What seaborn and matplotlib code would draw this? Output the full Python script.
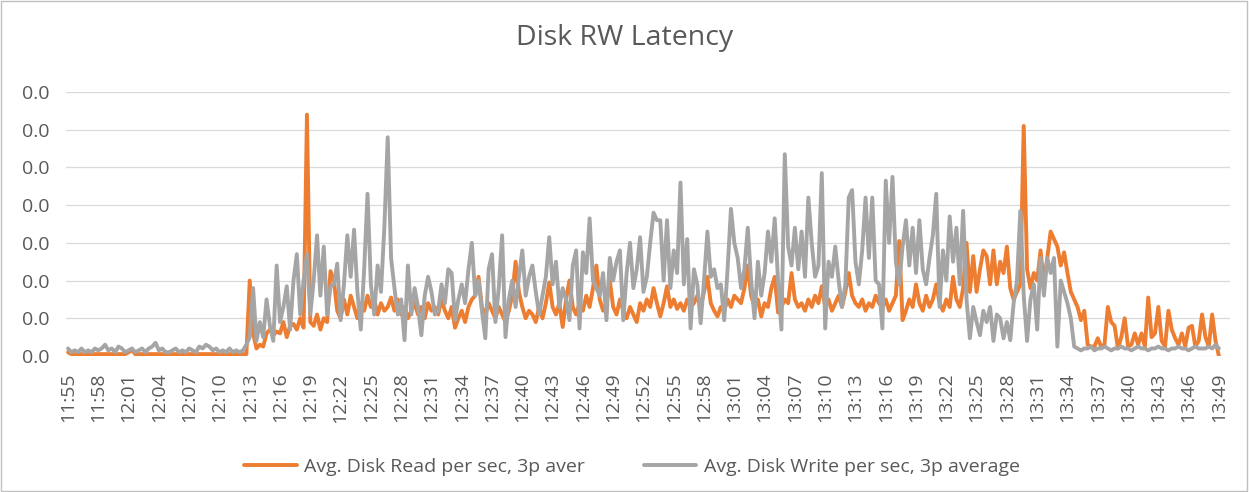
import matplotlib
matplotlib.use('Agg')
import numpy as np
import pandas as pd
import matplotlib.pyplot as plt
import matplotlib.dates as mdates
import seaborn as sns
from matplotlib.lines import Line2D
from matplotlib.patches import Rectangle

# ── data (latency in ms, one sample every 20 s from 11:55) ───────────────────
START = '2020-01-01 11:55:00'
STEP_S = 20
SERIES = ['Avg. Disk Read per sec, 3p aver', 'Avg. Disk Write per sec, 3p average']
COLORS = ['#ED7D31', '#A5A5A5']

read_ms = [
    0.1, 0.05, 0.05, 0.05, 0.05, 0.05, 0.05, 0.05, 0.05, 0.05,
    0.05, 0.05, 0.05, 0.05, 0.05, 0.05, 0.05, 0.05, 0.1, 0.15,
    0.05, 0.05, 0.05, 0.05, 0.05, 0.05, 0.05, 0.05, 0.05, 0.05,
    0.05, 0.05, 0.05, 0.05, 0.05, 0.05, 0.05, 0.05, 0.05, 0.05,
    0.05, 0.05, 0.05, 0.05, 0.05, 0.05, 0.05, 0.05, 0.05, 0.05,
    0.05, 0.05, 0.05, 0.05, 2.0, 0.6, 0.2, 0.3, 0.25, 0.6,
    0.7, 0.55, 0.65, 0.6, 0.9, 0.5, 0.8, 0.85, 0.7, 1.0,
    0.75, 6.4, 0.9, 0.8, 1.1, 0.7, 1.0, 0.9, 2.25, 2.0,
    1.2, 1.0, 1.5, 1.1, 1.6, 1.3, 1.0, 1.4, 1.2, 1.6,
    1.3, 1.5, 1.1, 1.4, 1.2, 1.3, 1.55, 1.2, 1.5, 1.1,
    1.3, 1.0, 1.2, 1.4, 1.1, 1.3, 1.0, 1.4, 1.2, 1.3,
    1.1, 1.5, 1.2, 1.0, 1.3, 0.75, 1.0, 1.2, 0.9, 1.3,
    1.5, 1.6, 2.1, 1.3, 1.1, 1.4, 1.2, 1.0, 1.3, 1.1,
    0.9, 1.2, 1.6, 2.5, 1.7, 1.3, 1.0, 1.2, 1.1, 0.9,
    1.3, 1.0, 1.4, 1.95, 1.3, 1.1, 1.4, 0.77, 1.5, 2.0,
    1.3, 1.1, 1.4, 1.2, 1.6, 1.3, 1.8, 2.4, 1.5, 1.2,
    1.4, 2.0, 1.3, 1.1, 1.5, 1.2, 1.0, 1.3, 1.1, 0.9,
    1.4, 1.2, 1.5, 1.3, 1.8, 1.4, 1.05, 1.4, 1.85, 1.3,
    1.5, 1.25, 1.4, 1.2, 1.5, 1.3, 1.4, 1.6, 1.3, 1.7,
    2.1, 1.4, 1.2, 1.05, 1.3, 1.2, 1.5, 1.3, 1.6, 1.5,
    1.4, 1.8, 2.4, 1.6, 1.3, 1.5, 1.05, 1.4, 1.3, 1.8,
    2.1, 1.15, 1.3, 1.5, 1.4, 2.2, 1.5, 1.3, 1.4, 1.2,
    1.5, 1.3, 1.6, 1.4, 1.85, 1.3, 1.5, 1.2, 1.4, 1.6,
    1.3, 1.7, 2.2, 1.6, 1.4, 1.3, 1.5, 1.2, 1.4, 1.3,
    1.6, 1.4, 1.3, 1.5, 1.2, 1.4, 1.6, 3.05, 0.95, 1.2,
    1.5, 1.3, 1.9, 1.4, 1.2, 1.6, 1.3, 1.5, 1.9, 1.4,
    1.2, 1.5, 1.3, 2.1, 1.5, 1.3, 1.8, 3.0, 1.7, 2.65,
    1.7, 2.3, 2.8, 2.65, 1.9, 2.8, 1.9, 2.5, 2.2, 2.9,
    1.8, 1.5, 1.7, 1.9, 6.1, 2.3, 1.8, 2.2, 2.0, 2.8,
    1.9, 2.6, 3.3, 3.1, 2.9, 2.4, 2.75, 2.2, 1.7, 1.5,
    1.3, 0.95, 1.2, 0.3, 0.25, 0.25, 0.47, 0.25, 0.3, 1.3,
    0.9, 0.8, 0.2, 0.5, 1.0, 0.25, 0.3, 0.6, 0.3, 0.6,
    0.25, 1.55, 0.5, 0.6, 1.3, 0.4, 0.25, 1.2, 0.7, 0.47,
    0.3, 0.6, 0.25, 0.75, 0.8, 0.25, 0.4, 1.1, 0.5, 0.25,
    1.1, 0.4, 0.0,
]

write_ms = [
    0.2, 0.1, 0.15, 0.1, 0.2, 0.1, 0.15, 0.1, 0.2, 0.15,
    0.2, 0.3, 0.15, 0.2, 0.1, 0.25, 0.2, 0.1, 0.15, 0.2,
    0.1, 0.15, 0.2, 0.1, 0.2, 0.25, 0.35, 0.15, 0.2, 0.1,
    0.1, 0.15, 0.2, 0.1, 0.15, 0.1, 0.2, 0.15, 0.1, 0.25,
    0.2, 0.3, 0.25, 0.15, 0.2, 0.1, 0.15, 0.1, 0.2, 0.1,
    0.15, 0.1, 0.15, 0.3, 0.5, 1.8, 0.4, 0.9, 0.5, 1.5,
    0.8, 0.4, 2.4, 0.9, 1.3, 1.85, 0.7, 2.0, 2.7, 1.1,
    2.0, 2.7, 1.1, 2.0, 3.2, 1.6, 2.9, 1.1, 1.85, 1.9,
    2.45, 0.95, 1.9, 3.2, 2.1, 3.35, 1.7, 0.7, 2.3, 4.3,
    1.9, 1.1, 2.4, 1.7, 3.4, 5.8, 2.6, 1.8, 1.1, 1.5,
    0.42, 2.4, 1.1, 1.8, 1.3, 0.55, 1.6, 2.1, 1.7, 1.1,
    1.2, 1.9, 1.4, 2.3, 2.2, 0.95, 1.5, 1.9, 1.4, 2.3,
    3.0, 1.6, 2.0, 1.2, 0.47, 2.3, 2.7, 0.9, 1.8, 3.2,
    0.5, 1.5, 2.0, 1.3, 2.1, 2.8, 1.6, 2.1, 2.4, 1.7,
    1.1, 1.6, 2.1, 3.15, 1.9, 2.5, 1.3, 1.8, 1.5, 0.95,
    2.4, 2.8, 0.73, 2.75, 2.2, 3.65, 2.0, 1.8, 1.6, 2.2,
    0.95, 2.6, 2.0, 2.5, 2.8, 0.95, 2.2, 3.0, 1.8, 2.3,
    3.15, 1.7, 2.1, 3.0, 3.8, 3.6, 3.6, 2.0, 3.6, 1.8,
    2.8, 2.2, 4.6, 1.9, 3.1, 0.73, 2.3, 1.9, 0.87, 2.0,
    3.3, 2.1, 2.3, 1.8, 1.9, 0.95, 2.3, 3.9, 3.0, 2.6,
    1.8, 2.3, 3.4, 2.0, 1.0, 2.5, 1.6, 2.2, 3.3, 2.5,
    3.65, 2.0, 0.7, 5.35, 2.9, 2.4, 3.4, 2.3, 3.3, 2.1,
    4.2, 3.0, 2.1, 2.4, 4.85, 0.73, 2.5, 2.1, 2.9, 2.0,
    1.3, 1.9, 4.2, 4.4, 2.5, 1.9, 2.8, 4.2, 2.6, 4.2,
    2.0, 1.9, 0.73, 4.65, 3.0, 4.75, 2.5, 1.9, 2.9, 3.6,
    2.4, 3.4, 2.2, 3.6, 2.3, 1.9, 2.6, 3.2, 4.3, 1.3,
    2.8, 2.0, 3.7, 2.5, 3.4, 1.9, 3.85, 1.5, 0.47, 1.3,
    0.9, 0.55, 1.2, 0.9, 1.3, 0.4, 1.1, 1.0, 0.47, 0.9,
    0.42, 1.4, 2.0, 3.85, 1.6, 0.4, 1.5, 1.9, 0.7, 2.6,
    1.6, 2.6, 2.2, 2.6, 0.25, 2.0, 1.7, 1.4, 1.0, 0.25,
    0.2, 0.15, 0.2, 0.2, 0.25, 0.15, 0.2, 0.2, 0.25, 0.2,
    0.15, 0.2, 0.2, 0.25, 0.2, 0.2, 0.15, 0.2, 0.25, 0.2,
    0.2, 0.15, 0.2, 0.2, 0.25, 0.2, 0.2, 0.15, 0.2, 0.2,
    0.25, 0.2, 0.2, 0.15, 0.2, 0.25, 0.2, 0.2, 0.2, 0.25,
    0.2, 0.3, 0.2,
]

y_ticks_ms = [0, 1, 2, 3, 4, 5, 6, 7]
LABEL_EVERY = 9   # one label every 3 minutes

# ── style ────────────────────────────────────────────────────────────────────
sns.set_theme(style='white')
plt.rcParams['font.family'] = ['Open Sans', 'DejaVu Sans']
TXT = '#595959'
LW = 2.8

n = len(read_ms)
times = pd.date_range(START, periods=n, freq=f'{STEP_S}s')
df = pd.DataFrame({
    'time': list(times) * 2,
    'value': np.array(read_ms + write_ms) / 1000.0,
    'series': [SERIES[0]] * n + [SERIES[1]] * len(write_ms),
})

fig = plt.figure(figsize=(12.49, 4.92), dpi=100)
ax = fig.add_axes([66 / 1249, 1 - 356 / 492, (1230 - 66) / 1249, (356 - 92) / 492])

sns.lineplot(data=df, x='time', y='value', hue='series', hue_order=SERIES,
             palette=COLORS, linewidth=LW, ax=ax, legend=False)

# axes
step_days = STEP_S / 86400
t0 = mdates.date2num(times[0])
t1 = mdates.date2num(times[-1])
ax.set_xlim(t0 - 0.6 * step_days, t1 + 3.3 * step_days)
ax.set_ylim(0, y_ticks_ms[-1] / 1000.0)
ax.set_yticks([v / 1000.0 for v in y_ticks_ms])
ax.yaxis.set_major_formatter(plt.FormatStrFormatter('%.1f'))
ax.set_xticks(times[::LABEL_EVERY])
ax.xaxis.set_major_formatter(mdates.DateFormatter('%H:%M'))
ax.tick_params(axis='x', rotation=90, length=0, pad=12, labelsize=14, labelcolor=TXT)
ax.tick_params(axis='y', length=0, pad=12, labelsize=14, labelcolor=TXT)
ax.set_xlabel('')
ax.set_ylabel('')
ax.grid(axis='y', color='#D9D9D9', linewidth=0.9)
ax.grid(axis='x', visible=False)
for s in ax.spines.values():
    s.set_visible(False)
ax.set_axisbelow(True)

fig.text(0.5, 1 - 38 / 492, 'Disk RW Latency', ha='center', va='center',
         fontsize=20.5, color=TXT)

handles = [Line2D([], [], color=c, linewidth=LW) for c in COLORS]
fig.legend(handles, SERIES, loc='center', bbox_to_anchor=(0.506, 1 - 467 / 492),
           ncol=2, frameon=False, fontsize=14, labelcolor=TXT,
           handlelength=2.7, columnspacing=3.0, handletextpad=0.4)

fig.patches.append(Rectangle((0.001, 0.002), 0.997, 0.995, transform=fig.transFigure,
                             fill=False, edgecolor='#BFBFBF', linewidth=1))

fig.savefig('out.png', dpi=100)
